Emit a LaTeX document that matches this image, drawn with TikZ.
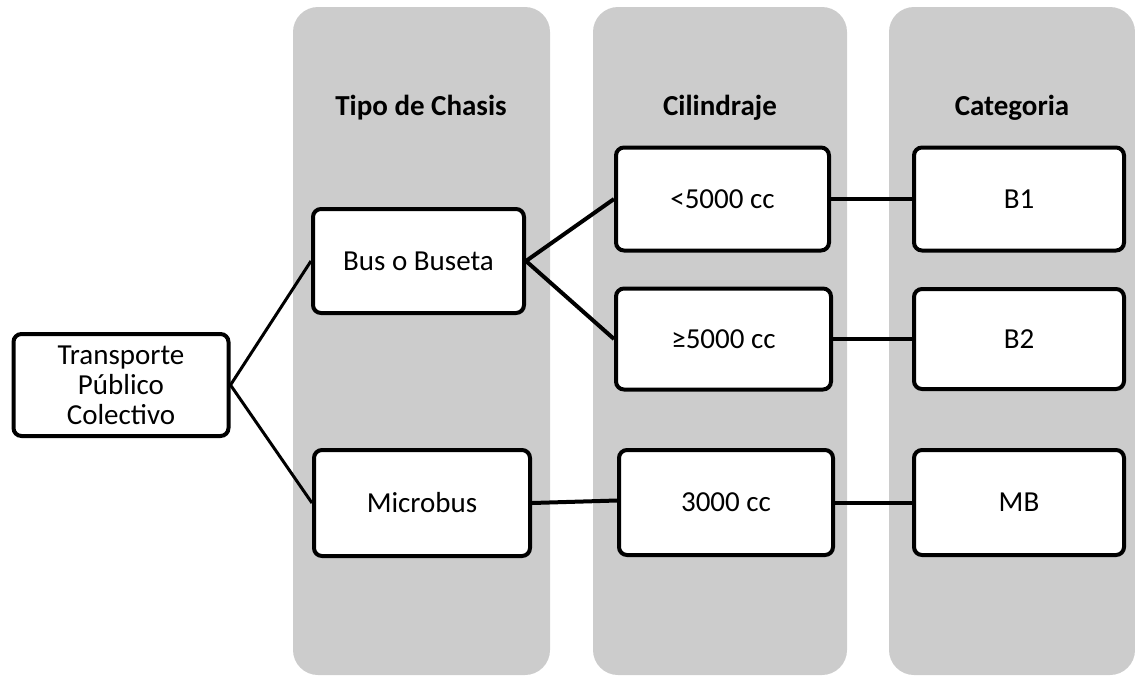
\documentclass[tikz,border=0pt]{standalone}
\usepackage{fontspec}
\setmainfont{Carlito}
\definecolor{colgray}{RGB}{204,204,204}
\begin{document}
\begin{tikzpicture}[x=1pt,y=-1pt,
  column/.style={fill=colgray,draw=none,rounded corners=25pt},
  box/.style={draw=black,fill=white,line width=4pt,rounded corners=8pt,inner sep=0pt,align=center,font=\fontsize{29}{30}\selectfont},
  header/.style={font=\fontsize{29}{32}\selectfont\bfseries},
  thick line/.style={line width=4pt},
  thin line/.style={line width=3pt}]
\useasboundingbox (0,0) rectangle (1135,675);
\fill[column] (293,7) rectangle (550,675);
\fill[column] (593,7) rectangle (847,675);
\fill[column] (889,7) rectangle (1135,675);
\node[header] (h1) at (421,108) {Tipo de Chasis};
\node[header] (h2) at (720,108) {Cilindraje};
\node[header] (h3) at (1012,108) {Categoria};
\node[box,minimum width=215pt,minimum height=102pt] (tpc) at (121,385) {Transporte\\Público\\Colectivo};
\node[box,minimum width=211pt,minimum height=104pt] (bus) at (418.5,261) {Bus o Buseta};
\node[box,minimum width=216pt,minimum height=106pt] (micro) at (422,503) {Microbus};
\node[box,minimum width=213pt,minimum height=103pt] (c1) at (722.5,199) {<5000 cc};
\node[box,minimum width=215pt,minimum height=101pt] (c2) at (723.5,339) {≥5000 cc};
\node[box,minimum width=214pt,minimum height=105pt] (c3) at (726,502.5) {3000 cc};
\node[box,minimum width=210pt,minimum height=103pt] (b1) at (1019,199) {B1};
\node[box,minimum width=210pt,minimum height=100pt] (b2) at (1019,339) {B2};
\node[box,minimum width=210pt,minimum height=105pt] (mb) at (1019,502.5) {MB};
\draw[thin line] (tpc.east) -- (bus.west);
\draw[thin line] (tpc.east) -- (micro.west);
\draw[thick line] (bus.east) -- (c1.west);
\draw[thick line] (bus.east) -- (c2.west);
\draw[thick line] (micro.east) -- ([yshift=2pt]c3.west);
\draw[thick line] (c1.east) -- (b1.west);
\draw[thick line] (c2.east) -- (b2.west);
\draw[thick line] (c3.east) -- (mb.west);
\end{tikzpicture}
\end{document}
